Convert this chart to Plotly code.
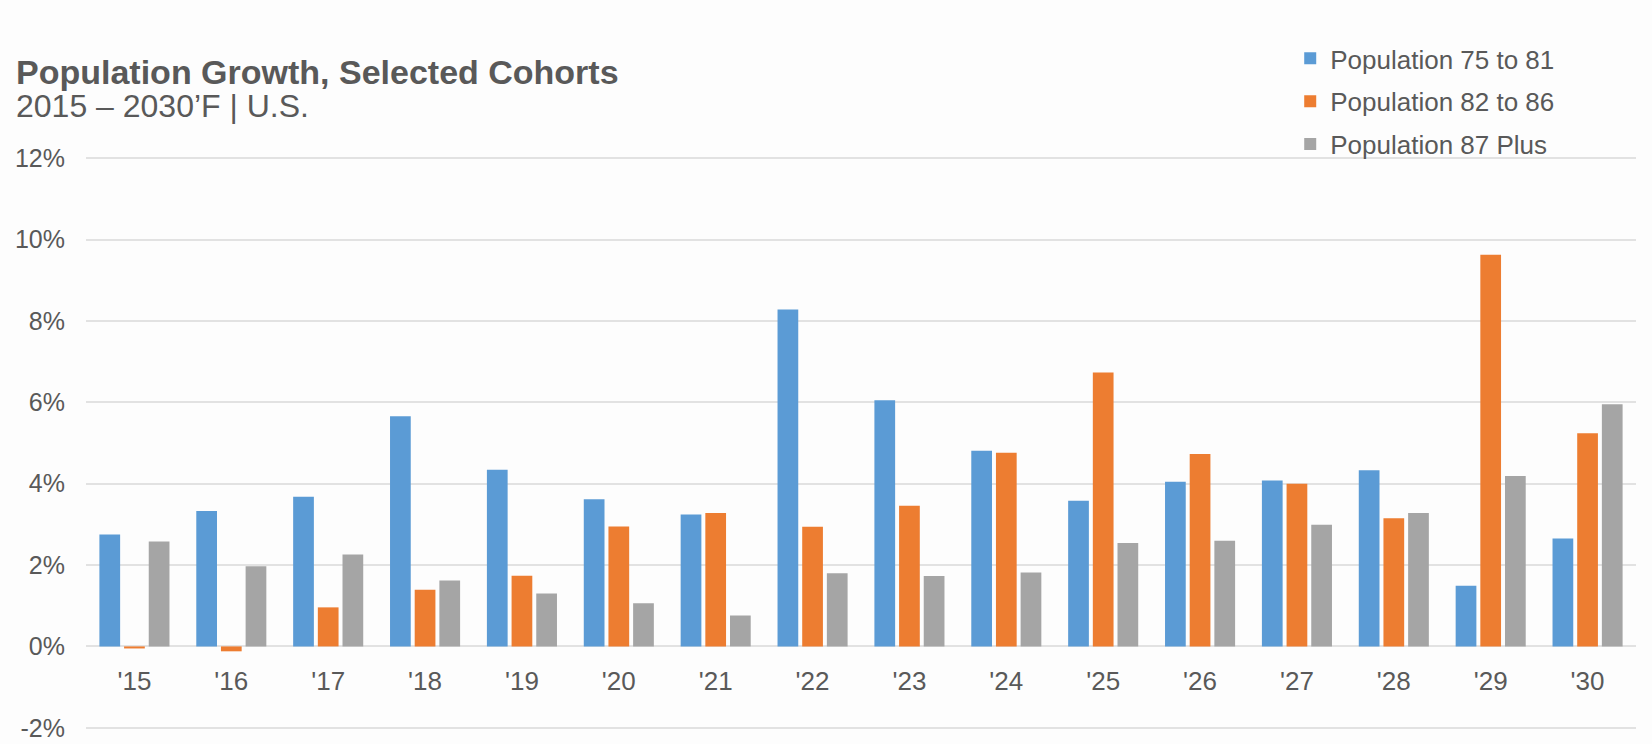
import plotly.graph_objects as go

years = ["'15", "'16", "'17", "'18", "'19", "'20", "'21", "'22",
         "'23", "'24", "'25", "'26", "'27", "'28", "'29", "'30"]
pop_75_81 = [2.75, 3.33, 3.68, 5.66, 4.34, 3.62, 3.24, 8.28,
             6.05, 4.81, 3.58, 4.05, 4.08, 4.33, 1.49, 2.65]
pop_82_86 = [-0.05, -0.12, 0.96, 1.39, 1.74, 2.95, 3.28, 2.94,
             3.46, 4.76, 6.73, 4.73, 4.00, 3.15, 9.63, 5.24]
pop_87_plus = [2.58, 1.97, 2.26, 1.62, 1.30, 1.06, 0.76, 1.80,
               1.73, 1.82, 2.54, 2.60, 2.99, 3.28, 4.19, 5.95]
series_names = ["Population 75 to 81", "Population 82 to 86", "Population 87 Plus"]
colors = ["#5B9BD5", "#ED7D31", "#A5A5A5"]
y_ticks = [-2, 0, 2, 4, 6, 8, 10, 12]
y_tick_labels = ["-2%", "0%", "2%", "4%", "6%", "8%", "10%", "12%"]

FONT = "Liberation Sans, Arial, sans-serif"
TXT = "#595959"

Y0, Y1 = -2.3, 12.3

fig = go.Figure()
for name, vals, col in zip(series_names, [pop_75_81, pop_82_86, pop_87_plus], colors):
    fig.add_trace(go.Bar(x=years, y=vals, name=name, marker_color=col,
                         marker_line_width=0, legendgroup=name))

fig.update_layout(
    width=1652, height=744,
    margin=dict(l=86, r=16, t=146, b=4, autoexpand=False),
    paper_bgcolor="#fdfdfd", plot_bgcolor="#fdfdfd",
    barmode="group", bargap=0.236, bargroupgap=0.16,
    font=dict(family=FONT, color=TXT),
    showlegend=True,
    legend=dict(xref="container", yref="container", x=0.781, y=0.953,
                xanchor="left", yanchor="top", font=dict(size=26, color=TXT),
                bgcolor="rgba(0,0,0,0)", tracegroupgap=6, traceorder="grouped",
                itemwidth=30),
    xaxis=dict(anchor="free", position=(0 - Y0) / (Y1 - Y0), showgrid=False, showline=False,
               zeroline=False, ticks="outside", ticklen=11, tickcolor="rgba(0,0,0,0)",
               tickfont=dict(size=26, color=TXT)),
    yaxis=dict(range=[Y0, Y1], tickvals=y_ticks, ticktext=y_tick_labels,
               showgrid=True, gridcolor="#e2e2e2", gridwidth=2,
               zeroline=True, zerolinecolor="#e2e2e2", zerolinewidth=2,
               showline=False, ticks="outside", ticklen=15, tickcolor="rgba(0,0,0,0)",
               ticklabeloverflow="allow",
               tickfont=dict(size=25, color=TXT)),
    annotations=[
        dict(text="<b>Population Growth, Selected Cohorts</b>", xref="paper", yref="paper",
             x=-0.0462, y=1.125, xanchor="left", yanchor="middle", showarrow=False,
             font=dict(size=34, color=TXT, family=FONT)),
        dict(text="2015 – 2030’F | U.S.", xref="paper", yref="paper",
             x=-0.0462, y=1.067, xanchor="left", yanchor="middle", showarrow=False,
             font=dict(size=32, color=TXT, family=FONT)),
    ],
)

fig.write_html("out.html")
